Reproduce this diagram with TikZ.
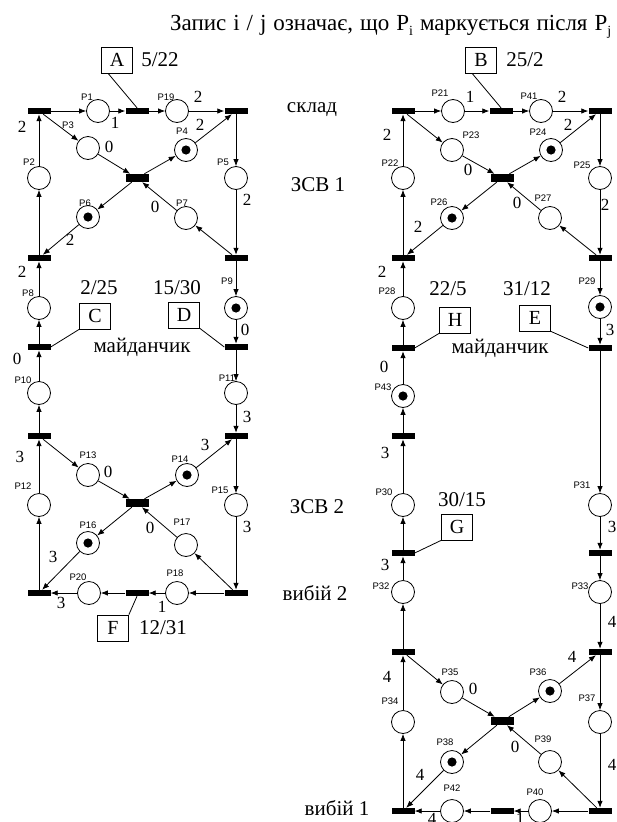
\documentclass[tikz,border=0pt]{standalone}
\usepackage{fontspec}
\setmainfont{Liberation Serif}
\setsansfont{Liberation Sans}
\usetikzlibrary{arrows.meta,calc}
\newcommand{\sbs}[1]{\raisebox{-0.5ex}{\fontsize{14}{14}\selectfont #1}}
\begin{document}
\begin{tikzpicture}[x=1pt,y=-1pt,
  place/.style={circle,draw,line width=0.8pt,minimum size=23pt,inner sep=0pt},
  marked/.style={place,path picture={\fill (path picture bounding box.center) circle (4.6pt);}},
  trans/.style={rectangle,fill=black,minimum width=23pt,minimum height=6pt,inner sep=0pt},
  ctrans/.style={trans,minimum height=8pt},
  arc/.style={-{Latex[length=7pt,width=5.5pt]},line width=0.8pt},
  link/.style={line width=0.8pt},
  pl/.style={font=\fontsize{9.5}{9.5}\selectfont\sffamily,inner sep=0pt},
  wt/.style={font=\fontsize{17}{17}\selectfont,inner sep=0pt},
  big/.style={font=\fontsize{21}{21}\selectfont,inner sep=0pt},
  ttl/.style={font=\fontsize{23}{23}\selectfont,inner sep=0pt},
  lbox/.style={draw,line width=0.8pt,minimum width=31pt,minimum height=26pt,inner sep=0pt,font=\fontsize{20}{20}\selectfont}
]
\useasboundingbox (0,0) rectangle (617,822);

% title
\node[ttl,anchor=base west] (title) at (170,30) {\makebox[441pt][s]{Запис i / j означає, що P\sbs{i} маркується після P\sbs{j}}};

% ================= LEFT NET =================
\node[trans] (T1) at (39,111) {};
\node[place] (P1) at (98,111) {};
\node[trans] (TA) at (137,111) {};
\node[place] (P19) at (177,111) {};
\node[trans] (T2) at (236,111) {};
\node[place] (P3) at (88,148) {};
\node[ctrans] (Tc1) at (137,178) {};
\node[marked] (P4) at (186,150) {};
\node[place] (P2) at (39,178) {};
\node[place] (P5) at (236,178) {};
\node[marked] (P6) at (88,217) {};
\node[place] (P7) at (186,218) {};
\node[trans] (T3) at (39,258) {};
\node[trans] (T4) at (236,258) {};
\node[place] (P8) at (39,308) {};
\node[marked] (P9) at (236,308) {};
\node[trans] (T5) at (39,347) {};
\node[trans] (T6) at (236,347) {};
\node[place] (P10) at (39,393) {};
\node[place] (P11) at (236,393) {};
\node[trans] (T7) at (39,436) {};
\node[trans] (T8) at (236,436) {};
\node[place] (P13) at (88,475) {};
\node[ctrans] (Tc2) at (137,503) {};
\node[marked] (P14) at (187,475) {};
\node[place] (P12) at (39,505) {};
\node[place] (P15) at (236,505) {};
\node[marked] (P16) at (88,543) {};
\node[place] (P17) at (186,545) {};
\node[trans] (T9) at (39,593) {};
\node[trans] (T10) at (236,593) {};
\node[place] (P20) at (89,593) {};
\node[trans] (TF) at (137,593) {};
\node[place] (P18) at (177,593) {};

\node[lbox] (A) at (117,60) {A};
\node[lbox] (C) at (95,316) {C};
\node[lbox] (D) at (184,315) {D};
\node[lbox] (F) at (113,628) {F};

\draw[link] ($(A.south west)!0.22!(A.south east)$) -- (TA.north);
\draw[link] (C.south west) -- (T5.east);
\draw[link] (D.south east) -- (T6.west);
\draw[link] (F.north east) -- (TF.south);

\foreach \a/\b in {T1/P1,P1/TA,TA/P19,P19/T2,T1/P3,P3/Tc1,Tc1/P4,P4/T2,T2/P5,P5/T4,T4/P7,P7/Tc1,Tc1/P6,P6/T3,T3/P2,P2/T1,
  T4/P9,P9/T6,T5/P8,P8/T3,T7/P10,P10/T5,T6/P11,P11/T8,
  T7/P13,P13/Tc2,Tc2/P14,P14/T8,T8/P15,P15/T10,T10/P17,P17/Tc2,Tc2/P16,P16/T9,T9/P12,P12/T7,
  T10/P18,P18/TF,TF/P20,P20/T9}
  \draw[arc] (\a) -- (\b);

% place labels left
\node[pl] (lP1) at (87,97) {P1};
\node[pl] (lP19) at (166,97) {P19};
\node[pl] (lP3) at (68,125) {P3};
\node[pl] (lP4) at (182,131) {P4};
\node[pl] (lP2) at (29,162) {P2};
\node[pl] (lP5) at (223,162) {P5};
\node[pl] (lP6) at (85,203) {P6};
\node[pl] (lP7) at (182,203) {P7};
\node[pl] (lP8) at (28,293) {P8};
\node[pl] (lP9) at (227,281) {P9};
\node[pl] (lP10) at (23,380) {P10};
\node[pl] (lP11) at (227,378) {P11};
\node[pl] (lP13) at (88,455) {P13};
\node[pl] (lP14) at (180,459) {P14};
\node[pl] (lP12) at (23,486) {P12};
\node[pl] (lP15) at (220,490) {P15};
\node[pl] (lP16) at (88,525) {P16};
\node[pl] (lP17) at (182,522) {P17};
\node[pl] (lP20) at (78,577) {P20};
\node[pl] (lP18) at (175,573) {P18};

% weights left
\node[wt] (w1) at (115,123) {1};
\node[wt] (w2) at (198,97) {2};
\node[wt] (w3) at (109,147) {0};
\node[wt] (w4) at (200,125) {2};
\node[wt] (w5) at (247,200) {2};
\node[wt] (w6) at (155,207) {0};
\node[wt] (w7) at (70,240) {2};
\node[wt] (w8) at (22,127) {2};
\node[wt] (w9) at (22,272) {2};
\node[wt] (w10) at (245,330) {0};
\node[wt] (w11) at (17,359) {0};
\node[wt] (w12) at (247,417) {3};
\node[wt] (w13) at (108,472) {0};
\node[wt] (w14) at (205,445) {3};
\node[wt] (w15) at (20,457) {3};
\node[wt] (w16) at (247,527) {3};
\node[wt] (w17) at (53,557) {3};
\node[wt] (w18) at (150,528) {0};
\node[wt] (w19) at (162,607) {1};
\node[wt] (w20) at (61,603) {3};

% ratio labels left
\node[big] (r1) at (160,60) {5/22};
\node[big] (r2) at (99,288) {2/25};
\node[big] (r3) at (177,288) {15/30};
\node[big] (r4) at (163,628) {12/31};

% ================= RIGHT NET =================
\node[trans] (T21) at (403,111) {};
\node[place] (P21) at (453,111) {};
\node[trans] (TB) at (501,111) {};
\node[place] (P41) at (541,111) {};
\node[trans] (T22) at (600,111) {};
\node[place] (P23) at (452,150) {};
\node[ctrans] (Tc3) at (502,178) {};
\node[marked] (P24) at (551,150) {};
\node[place] (P22) at (403,178) {};
\node[place] (P25) at (600,178) {};
\node[marked] (P26) at (452,218) {};
\node[place] (P27) at (550,218) {};
\node[trans] (T23) at (403,258) {};
\node[trans] (T24) at (600,258) {};
\node[place] (P28) at (403,308) {};
\node[marked] (P29) at (600,307) {};
\node[trans] (T25) at (403,348) {};
\node[trans] (T26) at (600,348) {};
\node[marked] (P43) at (403,396) {};
\node[trans] (T27) at (403,436) {};
\node[place] (P30) at (403,505) {};
\node[trans] (T28) at (403,553) {};
\node[place] (P32) at (403,592) {};
\node[trans] (T30) at (403,652) {};
\node[place] (P31) at (600,505) {};
\node[trans] (T29) at (600,553) {};
\node[place] (P33) at (600,592) {};
\node[trans] (T31) at (600,652) {};
\node[place] (P35) at (452,692) {};
\node[ctrans] (Tc4) at (502,721) {};
\node[marked] (P36) at (550,691) {};
\node[place] (P34) at (403,722) {};
\node[place] (P37) at (600,722) {};
\node[marked] (P38) at (452,762) {};
\node[place] (P39) at (550,762) {};
\node[trans] (T32) at (403,811) {};
\node[trans] (T33) at (600,811) {};
\node[place] (P42) at (452,811) {};
\node[trans] (TX) at (502,811) {};
\node[place] (P40) at (540,811) {};

\node[lbox] (B) at (481,60) {B};
\node[lbox] (H) at (455,320) {H};
\node[lbox] (E) at (535,318) {E};
\node[lbox] (G) at (457,527) {G};

\draw[link] ($(B.south west)!0.22!(B.south east)$) -- (TB.north);
\draw[link] (H.south west) -- (T25.east);
\draw[link] (E.south east) -- (T26.west);
\draw[link] (G.south west) -- (T28.east);

\foreach \a/\b in {T21/P21,P21/TB,TB/P41,P41/T22,T21/P23,P23/Tc3,Tc3/P24,P24/T22,T22/P25,P25/T24,T24/P27,P27/Tc3,Tc3/P26,P26/T23,T23/P22,P22/T21,
  T24/P29,P29/T26,T25/P28,P28/T23,T27/P43,P43/T25,
  T26/P31,P31/T29,T29/P33,P33/T31,T28/P30,P30/T27,P32/T28,T30/P32,
  T30/P35,P35/Tc4,Tc4/P36,P36/T31,T31/P37,P37/T33,T33/P39,P39/Tc4,Tc4/P38,P38/T32,T32/P34,P34/T30,
  T33/P40,P40/TX,TX/P42,P42/T32}
  \draw[arc] (\a) -- (\b);

% place labels right
\node[pl] (lP21) at (440,93) {P21};
\node[pl] (lP41) at (529,96) {P41};
\node[pl] (lP23) at (471,135) {P23};
\node[pl] (lP24) at (538,132) {P24};
\node[pl] (lP22) at (390,163) {P22};
\node[pl] (lP25) at (582,165) {P25};
\node[pl] (lP26) at (439,202) {P26};
\node[pl] (lP27) at (543,198) {P27};
\node[pl] (lP28) at (387,291) {P28};
\node[pl] (lP29) at (587,281) {P29};
\node[pl] (lP43) at (383,387) {P43};
\node[pl] (lP30) at (384,492) {P30};
\node[pl] (lP32) at (381,586) {P32};
\node[pl] (lP31) at (582,485) {P31};
\node[pl] (lP33) at (580,586) {P33};
\node[pl] (lP35) at (450,672) {P35};
\node[pl] (lP36) at (538,672) {P36};
\node[pl] (lP34) at (390,701) {P34};
\node[pl] (lP37) at (587,698) {P37};
\node[pl] (lP38) at (445,742) {P38};
\node[pl] (lP39) at (543,739) {P39};
\node[pl] (lP42) at (452,788) {P42};
\node[pl] (lP40) at (535,792) {P40};

% weights right
\node[wt] (v1) at (470,97) {1};
\node[wt] (v2) at (562,97) {2};
\node[wt] (v3) at (468,170) {0};
\node[wt] (v4) at (568,125) {2};
\node[wt] (v5) at (387,135) {2};
\node[wt] (v6) at (605,205) {2};
\node[wt] (v7) at (418,227) {2};
\node[wt] (v8) at (517,203) {0};
\node[wt] (v9) at (382,272) {2};
\node[wt] (v10) at (610,330) {3};
\node[wt] (v11) at (384,367) {0};
\node[wt] (v12) at (385,453) {3};
\node[wt] (v13) at (385,565) {3};
\node[wt] (v14) at (612,527) {3};
\node[wt] (v15) at (612,622) {4};
\node[wt] (v16) at (473,689) {0};
\node[wt] (v17) at (572,657) {4};
\node[wt] (v18) at (387,677) {4};
\node[wt] (v19) at (612,765) {4};
\node[wt] (v20) at (420,775) {4};
\node[wt] (v21) at (515,747) {0};
\node[wt] (v22) at (432,819) {4};
\node[wt] (v23) at (520,819) {1};

% ratio labels right
\node[big] (r5) at (525,60) {25/2};
\node[big] (r6) at (448,289) {22/5};
\node[big] (r7) at (527,289) {31/12};
\node[big] (r8) at (462,500) {30/15};

% side texts
\node[big] (s1) at (312,110) {склад};
\node[big] (s2) at (318,185) {ЗСВ 1};
\node[big] (s3) at (142,347) {майданчик};
\node[big] (s4) at (500,348) {майданчик};
\node[big] (s5) at (317,507) {ЗСВ 2};
\node[big] (s6) at (315,593) {вибій 2};
\node[big] (s7) at (337,808) {вибій 1};
\end{tikzpicture}
\end{document}
